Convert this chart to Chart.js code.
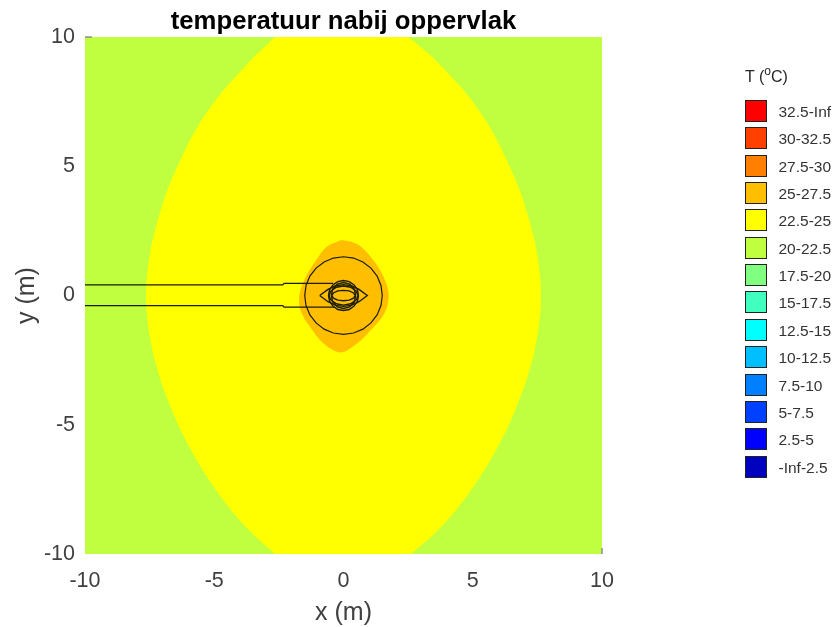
<!DOCTYPE html>
<html>
<head>
<meta charset="utf-8">
<title>temperatuur nabij oppervlak</title>
<script src="https://cdn.jsdelivr.net/npm/chart.js@4"></script>
<style>
body { margin: 0; background: #fff; font-family: "Liberation Sans", Arial, sans-serif; }
#wrap { position: relative; width: 835px; height: 627px; overflow: hidden; }
#legendTitle { position: absolute; left: 745px; top: 68px; font-size: 16px; color: #262626; white-space: nowrap; }
#legendTitle sup { font-size: 12px; line-height: 0; vertical-align: 7px; }
.box { position: absolute; left: 744.5px; width: 20px; height: 20px; border: 1px solid #222; }
.lab { position: absolute; left: 778.5px; font-size: 15.5px; line-height: 23px; color: #333; white-space: nowrap; }
</style>
</head>
<body>
<div id="wrap">
<canvas id="myChart" width="835" height="627"></canvas>
<div id="legendTitle">T (<sup>o</sup>C)</div>
<div id="legendDiv"></div>
</div>
<script>
var tickValues = [-10, -5, 0, 5, 10];
var legendLabels = ["32.5-Inf", "30-32.5", "27.5-30", "25-27.5", "22.5-25", "20-22.5", "17.5-20", "15-17.5", "12.5-15", "10-12.5", "7.5-10", "5-7.5", "2.5-5", "-Inf-2.5"];
var legendColors = ["#FF0000", "#FF4000", "#FF8000", "#FFBF00", "#FFFF00", "#BFFF40", "#80FF80", "#40FFBF", "#00FFFF", "#00BFFF", "#0080FF", "#0040FF", "#0000FF", "#0000BF"];

//contour areas
var area20 = [[-10, -10], [10, -10], [10, 10], [-10, 10], [-10, -10]];
var area225 = [[-2.65, 10], [-3.5, 9.2], [-4.05, 8.6], [-4.6, 8], [-5.0, 7.5], [-5.55, 6.7], [-5.95, 6], [-6.33, 5.2], [-6.65, 4.5], [-6.92, 3.8], [-7.22, 2.8], [-7.42, 2], [-7.55, 1.25], [-7.63, 0.45], [-7.64, -0.4], [-7.55, -1.27], [-7.36, -2.3], [-7.04, -3.4], [-6.62, -4.5], [-6.33, -5.15], [-6.0, -5.8], [-5.65, -6.43], [-5.25, -7.07], [-4.78, -7.75], [-4.25, -8.43], [-3.85, -8.88], [-3.4, -9.33], [-2.65, -10], [2.61, -10], [3.4, -9.33], [3.85, -8.88], [4.25, -8.43], [4.78, -7.75], [5.25, -7.07], [5.65, -6.43], [6.0, -5.8], [6.33, -5.15], [6.62, -4.5], [7.04, -3.4], [7.36, -2.3], [7.55, -1.27], [7.64, -0.4], [7.63, 0.45], [7.55, 1.25], [7.42, 2], [7.22, 2.8], [6.92, 3.8], [6.65, 4.5], [6.33, 5.2], [5.95, 6], [5.55, 6.7], [5.0, 7.5], [4.6, 8], [4.05, 8.6], [3.4, 9.27], [2.51, 10], [-2.65, 10]];
var area25 = [[-0.07, 2.15], [-0.65, 1.89], [-1.1, 1.31], [-1.49, 0.66], [-1.71, 0], [-1.66, -0.58], [-1.3, -1.21], [-0.78, -1.85], [-0.13, -2.2], [0.45, -1.91], [1.0, -1.4], [1.58, -0.7], [1.75, 0], [1.58, 0.66], [1.2, 1.31], [0.68, 1.89], [0.3, 2.08], [-0.07, 2.15]];

//building outlines
var pipeTop = [[-10, 0.41], [-2.35, 0.41], [-2.3, 0.47], [-0.4, 0.47]];
var pipeBottom = [[-10, -0.39], [-2.35, -0.39], [-2.3, -0.45], [-0.35, -0.45]];
var ring = [[1.5, 0], [1.45, 0.39], [1.3, 0.75], [1.06, 1.06], [0.75, 1.3], [0.39, 1.45], [0, 1.5], [-0.39, 1.45], [-0.75, 1.3], [-1.06, 1.06], [-1.3, 0.75], [-1.45, 0.39], [-1.5, 0], [-1.45, -0.39], [-1.3, -0.75], [-1.06, -1.06], [-0.75, -1.3], [-0.39, -1.45], [0, -1.5], [0.39, -1.45], [0.75, -1.3], [1.06, -1.06], [1.3, -0.75], [1.45, -0.39], [1.5, 0]];
var innerCircle = [[0.58, 0], [0.54, 0.22], [0.41, 0.41], [0.22, 0.54], [0, 0.58], [-0.22, 0.54], [-0.41, 0.41], [-0.54, 0.22], [-0.58, 0], [-0.54, -0.22], [-0.41, -0.41], [-0.22, -0.54], [0, -0.58], [0.22, -0.54], [0.41, -0.41], [0.54, -0.22], [0.58, 0]];
var lens = [[-0.92, 0], [-0.6, 0.24], [-0.3, 0.38], [0, 0.42], [0.3, 0.38], [0.6, 0.24], [0.92, 0], [0.6, -0.24], [0.3, -0.38], [0, -0.42], [-0.3, -0.38], [-0.6, -0.24], [-0.92, 0]];
var ellipseMid = [[0.56, 0], [0.49, 0.17], [0.28, 0.32], [0, 0.37], [-0.28, 0.32], [-0.49, 0.17], [-0.56, 0], [-0.49, -0.17], [-0.28, -0.32], [0, -0.37], [0.28, -0.32], [0.49, -0.17], [0.56, 0]];
var ellipseInner = [[0.45, 0], [0.39, 0.1], [0.22, 0.18], [0, 0.2], [-0.22, 0.18], [-0.39, 0.1], [-0.45, 0], [-0.39, -0.1], [-0.22, -0.18], [0, -0.2], [0.22, -0.18], [0.39, -0.1], [0.45, 0]];
var ellipseHigh = [[0.47, 0], [0.42, 0.25], [0.24, 0.44], [0, 0.5], [-0.24, 0.44], [-0.42, 0.25], [-0.47, 0], [-0.42, -0.25], [-0.24, -0.44], [0, -0.5], [0.24, -0.44], [0.42, -0.25], [0.47, 0]];

//the two ticks that stick out from under the image
var tickTopLeft = [[-10, 10], [-9.73, 10]];
var tickBottomRight = [[10, -10], [10, -9.77]];

function toPoints(list) {
    var points = [];
    for (var i = 0; i < list.length; i++) {
        points.push({x: list[i][0], y: list[i][1]});
    }
    return points;
}

function outline(list, width) {
    return {data: toPoints(list), showLine: true, pointRadius: 0, borderColor: "#1c1c00", borderWidth: width || 1.2, fill: false};
}

function areaSet(list, color, tension) {
    return {data: toPoints(list), showLine: true, pointRadius: 0, borderWidth: 0, borderColor: color, backgroundColor: color, fill: "shape", tension: tension};
}

function tickSet(list) {
    return {data: toPoints(list), showLine: true, pointRadius: 0, borderColor: "#8c8c8c", borderWidth: 1.5, fill: false, clip: false};
}

function axisOptions(titleText, isX) {
    return {
        type: "linear",
        min: -10,
        max: 10,
        grid: {display: false, drawTicks: false},
        border: {display: false},
        title: {
            display: true,
            text: titleText,
            color: "#404040",
            font: {family: "'Liberation Sans'", size: 25, lineHeight: 1.1},
            padding: isX ? {top: 0, bottom: 0} : {top: 13, bottom: 0}
        },
        ticks: {color: "#404040", font: {family: "'Liberation Sans'", size: 21.5}, padding: isX ? 14 : 10, maxRotation: 0, autoSkip: false},
        afterBuildTicks: function (axis) {
            axis.ticks = tickValues.map(function (v) { return {value: v}; });
        },
        afterFit: function (axis) {
            if (isX) { axis.height = 73; } else { axis.width = 85; }
        }
    };
}

//first dataset ends up on top
var chart = new Chart(document.getElementById("myChart"), {
    type: "scatter",
    data: {
        datasets: [
            outline(pipeTop), outline(pipeBottom), outline(ring), outline(innerCircle, 1.4), outline(lens, 1.4),
            outline(ellipseMid, 1.4), outline(ellipseInner, 1.4), outline(ellipseHigh, 1.4),
            tickSet(tickTopLeft), tickSet(tickBottomRight),
            areaSet(area25, legendColors[3], 0.35), areaSet(area225, legendColors[4], 0), areaSet(area20, legendColors[5], 0)
        ]
    },
    options: {
        responsive: false,
        animation: false,
        layout: {padding: {right: 233, left: 0, top: 0, bottom: 0}},
        plugins: {
            legend: {display: false},
            tooltip: {enabled: false},
            title: {
                display: true,
                text: "temperatuur nabij oppervlak",
                color: "#000",
                fullSize: false,
                font: {family: "'Liberation Sans'", size: 25.7, weight: "bold", lineHeight: 1.2},
                padding: {top: 6, bottom: 0.2}
            }
        },
        scales: {x: axisOptions("x (m)", true), y: axisOptions("y (m)", false)}
    }
});

//legend at the right
function createLegend() {
    var str = "";
    for (var i = 0; i < legendLabels.length; i++) {
        var top = 100 + i * 27.35;
        str += "<div class='box' style='top:" + top + "px;background:" + legendColors[i] + "'></div>";
        str += "<div class='lab' style='top:" + top + "px'>" + legendLabels[i] + "</div>";
    }
    document.getElementById("legendDiv").innerHTML = str;
}
createLegend();
</script>
</body>
</html>
